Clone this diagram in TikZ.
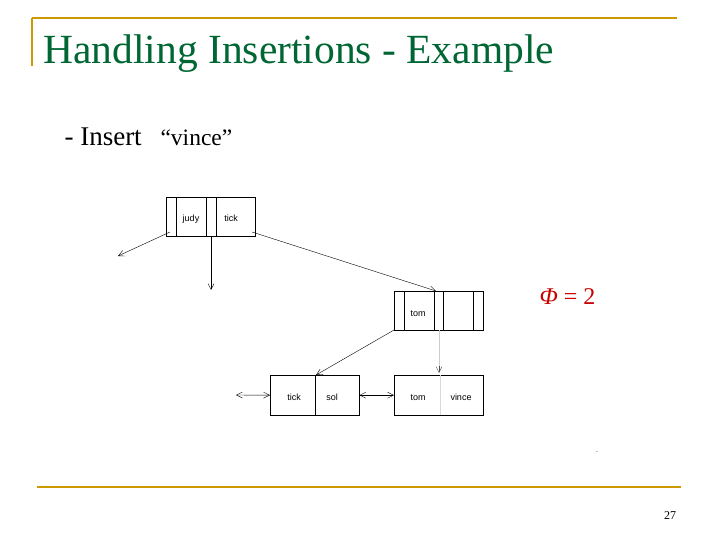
\documentclass[tikz,border=0pt]{standalone}
\usepackage{fontspec}
\setmainfont{Liberation Serif}
\newfontfamily\lab{Liberation Sans}
\usetikzlibrary{arrows.meta}
\definecolor{ttl}{RGB}{0,102,51}
\definecolor{gold}{RGB}{204,153,0}
\definecolor{phic}{RGB}{200,0,0}
\begin{document}
\begin{tikzpicture}[x=1pt,y=-1pt,
  box/.style={draw,thin},
  lbl/.style={font=\lab\fontsize{9}{10}\selectfont,anchor=base},
  ptr/.style={draw,thin,-{Straight Barb[length=6pt,width=6pt]}},
  dbl/.style={draw,thin,{Straight Barb[length=6pt,width=6pt]}-{Straight Barb[length=6pt,width=6pt]}}]
\useasboundingbox (0,0) rectangle (720,540);
\draw[gold,line width=2.2pt] (32,18) -- (32,66);
\draw[gold,line width=2.2pt] (32,18) -- (677,18);
\draw[gold,line width=2.2pt] (37,487) -- (681,487);
\node[anchor=west,text=ttl,font=\fontsize{41.5}{44}\selectfont] (title) at (40,54) {Handling Insertions - Example};
\node[anchor=west,font=\fontsize{27}{29}\selectfont] (ins) at (61,137) {- Insert};
\node[anchor=west,font=\fontsize{23.5}{25}\selectfont] (vin) at (157,138) {“vince”};
\node[anchor=west,text=phic,font=\fontsize{24}{26}\selectfont] (phi) at (536,297) {\textit{Φ} = 2};
\node[font=\fontsize{5}{5}\selectfont] (dot) at (597,453) {-};
\node[font=\fontsize{12}{13}\selectfont] (pg) at (670,516) {27};
% top node
\node[box,minimum width=89pt,minimum height=39pt,anchor=north west,inner sep=0] (top) at (166,197) {};
\draw (176,197) -- (176,236) (206,197) -- (206,236) (216,197) -- (216,236);
\node[lbl] (tj) at (191,222) {judy};
\node[lbl] (tt) at (231,222) {tick};
% tom node
\node[box,minimum width=89pt,minimum height=39pt,anchor=north west,inner sep=0] (tom) at (394,291) {};
\draw (404,291) -- (404,330) (434,291) -- (434,330) (443,291) -- (443,330) (473,291) -- (473,330);
\node[lbl] (tm) at (418,316) {tom};
% leaves
\node[box,minimum width=89pt,minimum height=40pt,anchor=north west,inner sep=0] (l1) at (270,375) {};
\draw (315,375) -- (315,415);
\node[lbl] (l1a) at (294,400) {tick};
\node[lbl] (l1b) at (332,400) {sol};
\node[box,minimum width=89pt,minimum height=40pt,anchor=north west,inner sep=0] (l2) at (394,375) {};
\draw[black!15] (440,375) -- (440,415);
\node[lbl] (l2a) at (418,400) {tom};
\node[lbl] (l2b) at (461,400) {vince};
% connectors
\coordinate (e1) at (118,256);
\coordinate (e2) at (211,290);
\coordinate (e3) at (236,395);
\path[ptr] (170,232) -- (e1);
\path[ptr] (211,236) -- (e2);
\path[ptr] (252,232) -- (436,291);
\path[ptr] (394,330) -- (316,375);
\path[draw,black!20] (439,330) -- (439,366);
\path[ptr,black!70] (439,366) -- (439,373);
\path[dbl] (e3) -- (l1.west);
\path[dbl] (l1.east) -- (l2.west);
\end{tikzpicture}
\end{document}
